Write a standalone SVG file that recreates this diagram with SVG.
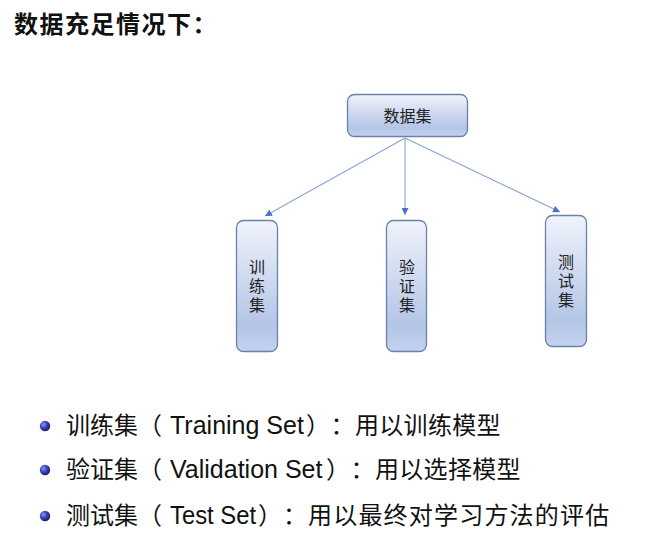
<svg xmlns="http://www.w3.org/2000/svg" width="667" height="537" viewBox="0 0 667 537">
<defs>
<linearGradient id="boxg" x1="0" y1="0" x2="0" y2="1">
<stop offset="0" stop-color="#f0f3fb"/>
<stop offset="0.8" stop-color="#b3c5e6"/>
<stop offset="1" stop-color="#c3d2ee"/>
</linearGradient>
<radialGradient id="ball" cx="0.35" cy="0.35" r="0.7">
<stop offset="0" stop-color="#8a93f0"/>
<stop offset="0.5" stop-color="#3a43b8"/>
<stop offset="1" stop-color="#141a6e"/>
</radialGradient>
<marker id="arr" viewBox="0 0 10 10" refX="10" refY="5" markerWidth="7" markerHeight="7" markerUnits="userSpaceOnUse" orient="auto">
<path d="M0,0 L10,5 L0,10 z" fill="#4472c4"/>
</marker>
</defs>
<style>
.box{fill:url(#boxg);stroke:#6b80aa;stroke-width:1.3}
.lbl{font-family:"Noto Sans CJK SC","Noto Sans",sans-serif;font-size:16px;fill:#222;text-anchor:middle}
.vlbl{font-family:"Noto Sans CJK SC","Noto Sans",sans-serif;font-size:16px;fill:#222;writing-mode:vertical-rl;letter-spacing:3px}
.conn{stroke:#8aa4d6;stroke-width:1.1;fill:none;marker-end:url(#arr)}
.cjk{font-family:"Noto Sans CJK SC",sans-serif;font-size:24px;fill:#111}
.lat{font-family:"Liberation Sans","DejaVu Sans",sans-serif;font-size:25px}
.title{font-family:"Noto Sans CJK SC",sans-serif;font-size:24px;font-weight:bold;fill:#111;letter-spacing:1.5px}
</style>
<rect width="667" height="537" fill="#ffffff"/>
<text class="title" x="14" y="33">数据充足情况下：</text>

<g id="connectors">
<line class="conn" x1="405" y1="138" x2="265" y2="216"/>
<line class="conn" x1="405" y1="138" x2="405" y2="215"/>
<line class="conn" x1="405" y1="138" x2="560" y2="212"/>
</g>

<g id="dataset">
<rect class="box" x="347.5" y="94.5" width="120" height="42" rx="7"/>
<text class="lbl" x="407.5" y="122">数据集</text>
</g>
<g id="train">
<rect class="box" x="236.5" y="220.5" width="41" height="131" rx="7"/>
<text class="vlbl" x="257" y="259">训练集</text>
</g>
<g id="valid">
<rect class="box" x="386.5" y="220.5" width="40" height="131" rx="7"/>
<text class="vlbl" x="407" y="259">验证集</text>
</g>
<g id="test">
<rect class="box" x="545.5" y="215.5" width="41" height="131" rx="7"/>
<text class="vlbl" x="566" y="254">测试集</text>
</g>

<g id="bullets">
<circle cx="45" cy="426" r="5.2" fill="url(#ball)"/>
<circle cx="45" cy="470" r="5.2" fill="url(#ball)"/>
<circle cx="45" cy="516" r="5.2" fill="url(#ball)"/>
<text class="cjk" y="434"><tspan x="66">训练集（</tspan><tspan class="lat" x="170">Training Set</tspan><tspan x="306">）</tspan><tspan x="330.5">：</tspan><tspan x="355" letter-spacing="0.3">用以训练模型</tspan></text>
<text class="cjk" y="478"><tspan x="66">验证集（</tspan><tspan class="lat" x="170">Validation Set</tspan><tspan x="326">）</tspan><tspan x="350.5">：</tspan><tspan x="375" letter-spacing="0.3">用以选择模型</tspan></text>
<text class="cjk" y="524"><tspan x="66">测试集（</tspan><tspan class="lat" x="170" textLength="86" lengthAdjust="spacingAndGlyphs">Test Set</tspan><tspan x="258">）</tspan><tspan x="283">：</tspan><tspan x="308" letter-spacing="1.2">用以最终对学习方法的评估</tspan></text>
</g>
</svg>
